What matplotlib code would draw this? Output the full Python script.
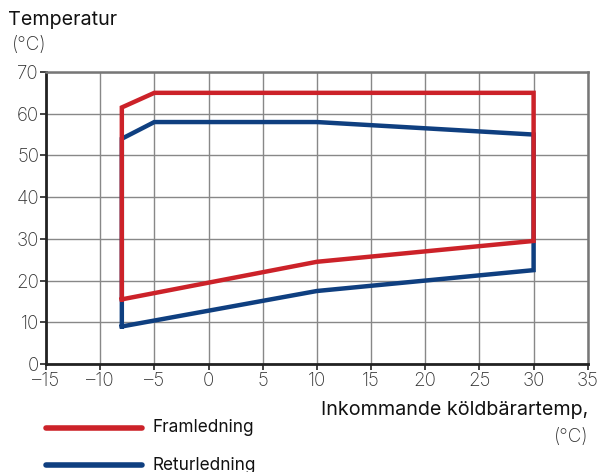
import matplotlib
matplotlib.use("Agg")
import matplotlib.pyplot as plt
import numpy as np

plt.rcParams['font.family'] = ['Inter', 'DejaVu Sans']

# operating envelope, flow line (Framledning)
fram_x = [-8, -8, -5, 30, 30, 10, -8]
fram_y = [15.5, 61.5, 65, 65, 29.5, 24.5, 15.5]
# return line (Returledning)
retur_x = [-8, -8, -5, 10, 30, 30, 10, -8]
retur_y = [9, 54, 58, 58, 55, 22.5, 17.5, 9]

xticks = [-15, -10, -5, 0, 5, 10, 15, 20, 25, 30, 35]
yticks = [0, 10, 20, 30, 40, 50, 60, 70]

red = '#cc2229'
blue = '#0f3f80'

fig = plt.figure(figsize=(6.01, 4.72), dpi=100)
ax = fig.add_axes([0.0765, 0.2288, 0.9015, 0.6187])

ax.plot(retur_x, retur_y, color=blue, lw=3.2, solid_joinstyle='miter', zorder=3)
ax.plot(fram_x, fram_y, color=red, lw=3.2, solid_joinstyle='miter', zorder=4)

ax.set_xlim(-15, 35)
ax.set_ylim(0, 70)
ax.set_xticks(xticks)
ax.set_yticks(yticks)
ax.set_xticklabels([str(v).replace('-', '\u2013') for v in xticks])
ax.set_yticklabels([str(v) for v in yticks])
ax.grid(True, color='#888888', lw=1.0, zorder=0)
ax.tick_params(length=4, width=1.2, color='#222222', labelsize=13.5, labelcolor='#333333')
ax.tick_params(axis='x', pad=2)
ax.tick_params(axis='y', pad=1)
for lab in ax.get_xticklabels() + ax.get_yticklabels():
    lab.set_fontweight('light')

for s in ['left', 'bottom']:
    ax.spines[s].set_color('#222222')
    ax.spines[s].set_linewidth(2.0)
for s in ['top', 'right']:
    ax.spines[s].set_color('#777777')
    ax.spines[s].set_linewidth(1.8)

fig.text(8/601, 1-20/472, 'Temperatur', fontsize=14.2, va='center', ha='left', color='#111111')
fig.text(12/601, 1-45/472, '(°C)', fontsize=13.5, va='center', ha='left', color='#333333', fontweight='light')
fig.text(588/601, 1-410/472, 'Inkommande köldbärartemp,', fontsize=14.2, va='center', ha='right', color='#111111')
fig.text(588/601, 1-437/472, '(°C)', fontsize=13.5, va='center', ha='right', color='#333333', fontweight='light')

# legend drawn below the plot
fig.add_artist(plt.Line2D([46/601, 142/601], [1-428/472, 1-428/472], color=red, lw=4, solid_capstyle='round'))
fig.add_artist(plt.Line2D([46/601, 142/601], [1-465/472, 1-465/472], color=blue, lw=4, solid_capstyle='round'))
fig.text(152/601, 1-428/472, 'Framledning', fontsize=12.4, va='center', ha='left', color='#111111')
fig.text(152/601, 1-465/472, 'Returledning', fontsize=12.4, va='center', ha='left', color='#111111')

fig.savefig('out.png', dpi=100)
